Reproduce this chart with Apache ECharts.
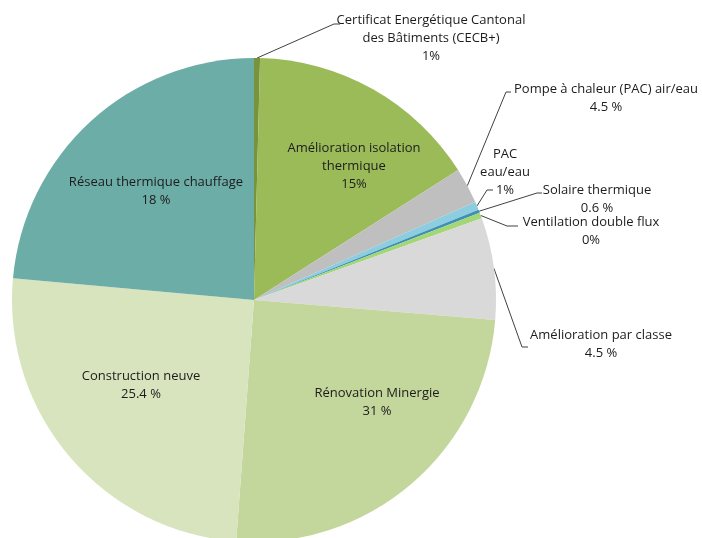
<!DOCTYPE html>
<html>
<head>
<meta charset="utf-8">
<script src="https://cdn.jsdelivr.net/npm/echarts@6/dist/echarts.min.js"></script>
<style>
  html, body { margin: 0; padding: 0; background: #fff; }
  #chart { width: 702px; height: 538px; }
</style>
</head>
<body>
<div id="chart"></div>
<script>
// slice names, in clockwise order from 12 o'clock
var categories = [
    'Certificat Energétique Cantonal des Bâtiments (CECB+)',
    'Amélioration isolation thermique',
    'Pompe à chaleur (PAC) air/eau',
    'PAC eau/eau',
    'Solaire thermique',
    'Ventilation double flux',
    'Amélioration par classe',
    'Rénovation Minergie',
    'Construction neuve',
    'Réseau thermique chauffage'
];
// slice sizes (%)
var sliceValues = [0.4, 15.6, 2.4, 0.55, 0.2, 0.4, 6.8, 24.9, 25.3, 23.6];
// label text as printed on the chart
var labelTexts = [
    'Certificat Energétique Cantonal\ndes Bâtiments (CECB+)\n1%',
    'Amélioration isolation\nthermique\n15%',
    'Pompe à chaleur (PAC) air/eau\n4.5 %',
    'PAC\neau/eau\n1%',
    'Solaire thermique\n0.6 %',
    'Ventilation double flux\n0%',
    'Amélioration par classe\n4.5 %',
    'Rénovation Minergie\n31 %',
    'Construction neuve\n25.4 %',
    'Réseau thermique chauffage\n18 %'
];

var colors = ['#77933c', '#9bbb59', '#bfbfbf', '#8ccde0', '#3d8fb3', '#a3d675',
              '#d9d9d9', '#c3d69b', '#d7e4bd', '#6dada7'];

// label centres [x, y], and leader bends for the outside ones
var labelPos = [
    [431, 38], [354, 166], [606, 98], [505, 172], [597, 199],
    [591, 231], [601, 344], [377, 402], [141, 385], [156, 191]
];
var leaderBends = {
    0: [[334, 24], [340, 24]],
    2: [[506, 92], [511, 92]],
    3: [[487, 190], [493, 190]],
    4: [[537, 193], [542, 193]],
    5: [[507, 226], [518, 226]],
    6: [[522, 347], [528, 347]]
};

var pieData = [];
for (var i = 0; i < categories.length; i++) {
    var outside = leaderBends[i] !== undefined;
    pieData.push({
        name: categories[i],
        value: sliceValues[i],
        itemStyle: { color: colors[i] },
        label: { position: outside ? 'outside' : 'inside' },
        labelLine: { show: outside }
    });
}

var chart = echarts.init(document.getElementById('chart'), null, { renderer: 'canvas' });
chart.setOption({
    animation: false,
    series: [{
        type: 'pie',
        center: [254, 300],
        radius: [0, 242],
        startAngle: 90,
        clockwise: true,
        avoidLabelOverlap: false,
        silent: true,
        itemStyle: { borderWidth: 0 },
        label: {
            show: true,
            formatter: function (p) { return labelTexts[p.dataIndex]; },
            fontFamily: '"Open Sans", sans-serif',
            fontSize: 13,
            lineHeight: 18,
            color: '#1c1c1c',
            align: 'center'
        },
        labelLine: {
            length: 10,
            length2: 5,
            lineStyle: { color: '#404040', width: 1 }
        },
        labelLayout: function (params) {
            var i = params.dataIndex;
            var out = {
                x: labelPos[i][0],
                y: labelPos[i][1],
                align: 'center',
                verticalAlign: 'middle'
            };
            if (leaderBends[i] && params.labelLinePoints) {
                out.labelLinePoints = [params.labelLinePoints[0]].concat(leaderBends[i]);
            }
            return out;
        },
        data: pieData
    }]
});
</script>
</body>
</html>
